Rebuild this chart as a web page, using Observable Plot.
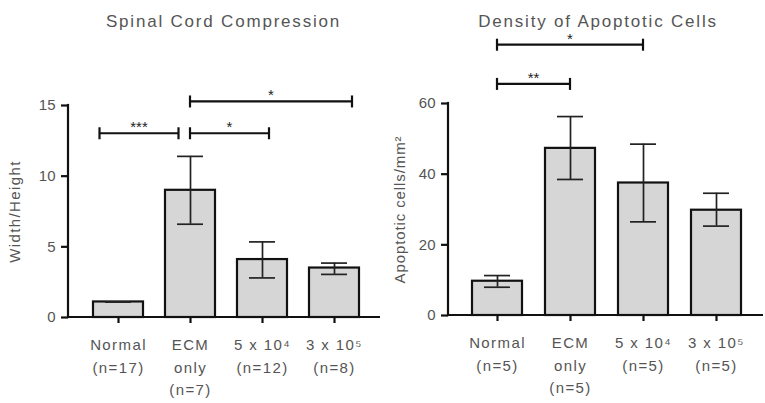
<!DOCTYPE html>
<html><head><meta charset="utf-8">
<script src="https://cdn.jsdelivr.net/npm/d3@7"></script>
<script src="https://cdn.jsdelivr.net/npm/@observablehq/plot@0.6"></script>
<style>
body{margin:0;background:#fff;}
#wrap{display:flex;width:765px;height:403px;overflow:hidden;}
svg text{font-family:"Liberation Sans",Arial,sans-serif;}
</style></head><body><div id="wrap"></div>
<script>
// ---- data ----
const categories = ["Normal", "ECM only", "5 x 10⁴", "3 x 10⁵"];
const categoryLines = [["Normal"], ["ECM", "only"], ["5 x 10⁴"], ["3 x 10⁵"]];

const compressionN = ["(n=17)", "(n=7)", "(n=12)", "(n=8)"];
const compressionMean = [1.1, 9.0, 4.1, 3.5];
const compressionLow = [1.1, 6.6, 2.8, 3.05];
const compressionHigh = [1.1, 11.4, 5.35, 3.85];
const compressionTicks = [0, 5, 10, 15];
const compressionBracketFrom = ["Normal", "ECM only", "ECM only"];
const compressionBracketTo = ["ECM only", "5 x 10⁴", "3 x 10⁵"];
const compressionBracketY = [13, 13, 15.25];
const compressionBracketLabel = ["***", "*", "*"];

const apoptosisN = ["(n=5)", "(n=5)", "(n=5)", "(n=5)"];
const apoptosisMean = [9.7, 47.3, 37.5, 29.8];
const apoptosisLow = [8.0, 38.5, 26.5, 25.3];
const apoptosisHigh = [11.3, 56.3, 48.5, 34.6];
const apoptosisTicks = [0, 20, 40, 60];
const apoptosisBracketFrom = ["Normal", "Normal"];
const apoptosisBracketTo = ["5 x 10⁴", "ECM only"];
const apoptosisBracketY = [76.5, 65.4];
const apoptosisBracketLabel = ["*", "**"];

// ---- drawing ----
const FONT = '"Liberation Sans", Arial, sans-serif';

function axisLines() {
  return (index, scales, values, dims) => {
    const {width, height, marginLeft, marginRight, marginTop, marginBottom} = dims;
    const g = d3.create("svg:g");
    const y0 = scales.y(0);
    g.append("line").attr("x1", marginLeft).attr("x2", marginLeft)
      .attr("y1", marginTop).attr("y2", height - marginBottom)
      .attr("stroke", "#111").attr("stroke-width", 2.2).attr("stroke-linecap", "square");
    g.append("line").attr("x1", marginLeft).attr("x2", width - marginRight)
      .attr("y1", y0).attr("y2", y0)
      .attr("stroke", "#111").attr("stroke-width", 2.2);
    return g.node();
  };
}

function bracketMark(from, to, ys, labels, nudge) {
  return (index, scales) => {
    const g = d3.create("svg:g");
    const x = scales.x, y = scales.y, bw = x.bandwidth();
    from.forEach((f, i) => {
      const x1 = x(f) + bw / 2 + nudge[i][0] * bw;
      const x2 = x(to[i]) + bw / 2 + nudge[i][1] * bw;
      const yy = y(ys[i]);
      g.append("line").attr("x1", x1).attr("x2", x2).attr("y1", yy).attr("y2", yy)
        .attr("stroke", "#111").attr("stroke-width", 2.2);
      for (const xx of [x1, x2]) {
        g.append("line").attr("x1", xx).attr("x2", xx).attr("y1", yy - 6).attr("y2", yy + 6)
          .attr("stroke", "#111").attr("stroke-width", 2.2);
      }
      g.append("text").attr("x", (x1 + x2) / 2).attr("y", yy - 1)
        .attr("text-anchor", "middle").style("font-size", "15px").style("font-family", FONT)
        .style("fill", "#222").text(labels[i]);
    });
    return g.node();
  };
}

function panel(o) {
  const rows = categories.map((c, i) => ({
    c, mean: o.mean[i], low: o.low[i], high: o.high[i],
    label: [...categoryLines[i], o.n[i]].join("\n")
  }));
  const svg = Plot.plot({
    width: o.width, height: 403,
    marginLeft: o.marginLeft, marginRight: o.marginRight,
    marginTop: o.marginTop, marginBottom: 403 - o.bottomY,
    x: {domain: categories, paddingInner: 0.31, paddingOuter: 0.3, align: 0.53, axis: null},
    y: {domain: o.domain, axis: null},
    style: {fontFamily: FONT, fontSize: "15px", background: "white", color: "#111", overflow: "visible"},
    marks: [
      Plot.barY(rows, {x: "c", y: "mean", fill: "#d6d6d6", stroke: "#111", strokeWidth: 2.2}),
      Plot.ruleX(rows, {x: "c", y1: "low", y2: "high", stroke: "#222", strokeWidth: 1.7}),
      Plot.tickY(rows, {x: "c", y: "high", stroke: "#222", strokeWidth: 1.7, insetLeft: 12, insetRight: 12}),
      Plot.tickY(rows, {x: "c", y: "low", stroke: "#222", strokeWidth: 1.7, insetLeft: 12, insetRight: 12}),
      Plot.axisY({ticks: o.ticks, tickSize: 7, tickPadding: 6, strokeWidth: 2.2, stroke: "#111", fill: "#555", label: null, fontSize: 15}),
      Plot.axisX({tickSize: 6, strokeWidth: 2.2, stroke: "#111", tickFormat: () => "", label: null}),
      axisLines(),
      Plot.text(rows, {x: "c", y: () => 0, text: "label", lineAnchor: "top", dy: 17, lineHeight: 1.5, fill: "#555", fontSize: 15}),
      bracketMark(o.bFrom, o.bTo, o.bY, o.bLabel, o.nudge),
      Plot.text([o.title], {frameAnchor: "top", dy: 14 - o.marginTop, dx: o.titleDx, fontSize: 17, fill: "#555"}),
      Plot.text([o.ylabel], {frameAnchor: "left", textAnchor: "middle", rotate: -90, dx: o.ylabelDx, fontSize: 15, fill: "#555"})
    ]
  });
  // letter spacing tweaks (inline styles)
  d3.select(svg).selectAll("text").each(function() {
    const t = this.textContent;
    if (/^[\d.]+$/.test(t) || /^\*+$/.test(t)) return;
    this.style.letterSpacing = (t === o.title) ? "1.8px" : (t === o.ylabel ? o.ylabelSpacing : "1.4px");
  });
  return svg;
}

const left = panel({
  width: 380, marginLeft: 68, marginRight: 0, marginTop: 105, bottomY: 317,
  domain: [0, 15], ticks: compressionTicks,
  mean: compressionMean, low: compressionLow, high: compressionHigh, n: compressionN,
  bFrom: compressionBracketFrom, bTo: compressionBracketTo, bY: compressionBracketY, bLabel: compressionBracketLabel,
  nudge: [[-0.37, -0.23], [0, 0.14], [0, 0.36]],
  title: "Spinal Cord Compression", titleDx: -1,
  ylabel: "Width/Height", ylabelDx: -53, ylabelSpacing: "1.4px"
});
const right = panel({
  width: 385, marginLeft: 68, marginRight: 2, marginTop: 103, bottomY: 315,
  domain: [0, 60], ticks: apoptosisTicks,
  mean: apoptosisMean, low: apoptosisLow, high: apoptosisHigh, n: apoptosisN,
  bFrom: apoptosisBracketFrom, bTo: apoptosisBracketTo, bY: apoptosisBracketY, bLabel: apoptosisBracketLabel,
  nudge: [[0, 0], [0, 0]],
  title: "Density of Apoptotic Cells", titleDx: -8,
  ylabel: "Apoptotic cells/mm²", ylabelDx: -48, ylabelSpacing: "0.9px"
});
document.getElementById("wrap").append(left, right);
</script></body></html>
